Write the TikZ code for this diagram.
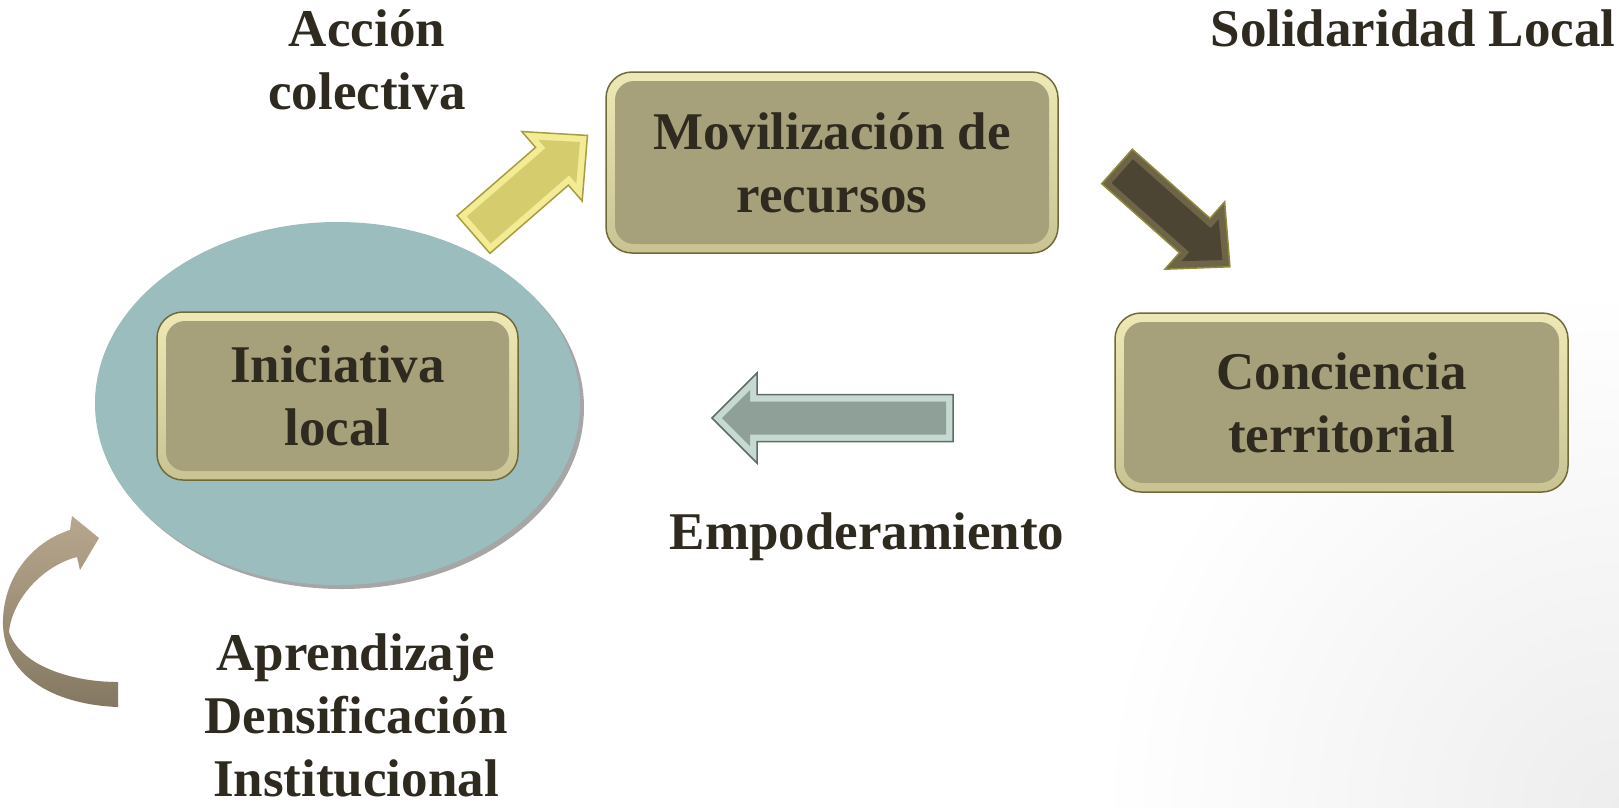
\documentclass[tikz,border=0pt]{standalone}
\usepackage{fontspec}
\setmainfont{Liberation Serif}
\usetikzlibrary{shapes.geometric,shadows}

\definecolor{boxfill}{HTML}{A7A17B}
\definecolor{beveltop}{HTML}{EEE9B4}
\definecolor{bevelbot}{HTML}{C9C394}
\definecolor{boxline}{HTML}{6F6A3A}
\definecolor{txt}{HTML}{2E2A1F}
\definecolor{ellfill}{HTML}{9BBDBD}
\definecolor{yelout}{HTML}{F3EC94}
\definecolor{yelin}{HTML}{D5CC6E}
\definecolor{yelline}{HTML}{A69E3E}
\definecolor{darkout}{HTML}{6E6549}
\definecolor{darkin}{HTML}{4D4533}
\definecolor{darkline}{HTML}{8E8A3A}
\definecolor{grayout}{HTML}{C6DAD2}
\definecolor{grayin}{HTML}{8FA098}
\definecolor{grayline}{HTML}{5D6D67}
\definecolor{curvtop}{HTML}{B7A78E}
\definecolor{curvbot}{HTML}{857862}

% #1 length, #2 head length, #3 shaft half width, #4 head half width,
% #5 outer colour, #6 inner colour, #7 border colour
\newcommand\blkarrow[7]{%
  \filldraw[fill=#5, draw=#7, line width=1.5pt, line join=miter]
    (0,{-#3}) -- ({#1-#2},{-#3}) -- ({#1-#2},{-#4}) -- (#1,0)
    -- ({#1-#2},{#4}) -- ({#1-#2},{#3}) -- (0,{#3}) -- cycle;
  \fill[#6]
    (7,{-(#3-7)}) -- ({#1-#2+7},{-(#3-7)}) -- ({#1-#2+7},{-(#4-17)}) -- ({#1-10},0)
    -- ({#1-#2+7},{#4-17}) -- ({#1-#2+7},{#3-7}) -- (7,{#3-7}) -- cycle;
}

\tikzset{
  bigtext/.style={font=\fontsize{53}{63}\selectfont\bfseries, text=txt, align=center},
  box/.style={bigtext, draw=boxline, line width=1.5pt, top color=beveltop, bottom color=bevelbot,
    rounded corners=26pt, inner sep=0pt,
    path picture={\fill[boxfill, rounded corners=19pt]
      ([shift={(9pt,-9pt)}]path picture bounding box.north west) rectangle
      ([shift={(-9pt,9pt)}]path picture bounding box.south east);}},
  label/.style={bigtext}
}

\begin{document}
\begin{tikzpicture}[x=1pt,y=-1pt]
\useasboundingbox (0,0) rectangle (1619,807);
\fill[white] (0,0) rectangle (1619,807);
\begin{scope}
  \clip (0,0) rectangle (1619,807);
  \shade[inner color=black!7, outer color=white] (1619,807) circle[radius=520];
\end{scope}

% ellipse
\node[ellipse, fill=ellfill, minimum width=485pt, minimum height=363pt,
      drop shadow={shadow xshift=4pt, shadow yshift=-4pt, opacity=0.35, fill=black}]
  (ell) at (337.5,403.5) {};

% boxes
\node[box, minimum width=452pt, minimum height=181pt] (mov) at (832,162.5) {Movilización de\\recursos};
\node[box, minimum width=453pt, minimum height=179pt] (con) at (1341.5,402.5) {Conciencia\\territorial};
\node[box, minimum width=361pt, minimum height=168pt] (ini) at (337.5,396) {Iniciativa\\local};

% labels
\node[label] (accion) at (367,60) {Acción\\colectiva};
\node[label] (solid) at (1413,28) {Solidaridad Local};
\node[label] (empod) at (867,537) {Empoderamiento};
\node[label] (aprend) at (356,715) {Aprendizaje\\Densificación\\Institucional};

% block arrows
\begin{scope}[shift={(473.5,234.5)}, rotate=41]
  \blkarrow{151}{47}{25}{46}{yelout}{yelin}{yelline}
\end{scope}
\begin{scope}[shift={(1117,166.5)}, rotate=-41.6]
  \blkarrow{151}{47}{23}{45}{darkout}{darkin}{darkline}
\end{scope}
\begin{scope}[shift={(953,418)}, rotate=180]
  \blkarrow{241}{45}{23.5}{45}{grayout}{grayin}{grayline}
\end{scope}

% curved arrow
\shade[top color=curvtop, bottom color=curvbot]
  (118,707) .. controls (60,705) and (5,680) .. (3,625)
  .. controls (2,578) and (32,542) .. (70,530)
  -- (72,516) -- (99,538) -- (80,570) -- (77,557)
  .. controls (42,566) and (12,600) .. (9,632)
  .. controls (20,665) and (70,682) .. (118,682) -- cycle;
\end{tikzpicture}
\end{document}
